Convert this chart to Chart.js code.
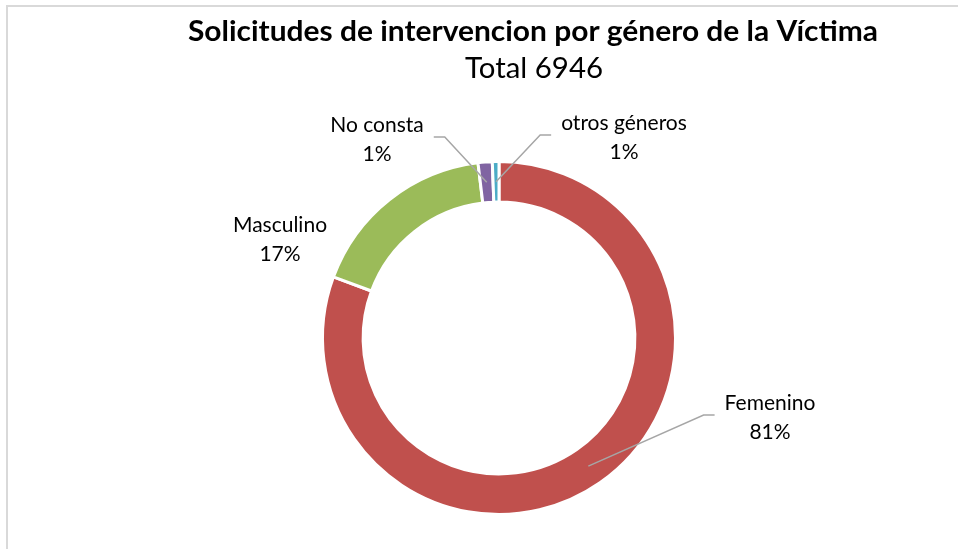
<!DOCTYPE html>
<html>
<head>
<meta charset="utf-8">
<script src="https://cdn.jsdelivr.net/npm/chart.js@4.4.0/dist/chart.umd.min.js"></script>
<style>
    html, body { margin: 0; padding: 0; background: #fff; overflow: hidden; }
    #wrap { position: relative; width: 958px; height: 549px; }
    #frame { position: absolute; left: 6px; top: 5px; width: 1000px; height: 600px; border: 2px solid #d9d9d9; box-sizing: border-box; }
    canvas { position: absolute; left: 0; top: 0; }
</style>
</head>
<body>
<div id="wrap">
    <div id="frame"></div>
    <canvas id="donut" width="958" height="549"></canvas>
</div>
<script>
const categories = ['Femenino', 'Masculino', 'No consta', 'otros géneros'];
const values = [5600, 1214, 90, 42];
const colors = ['#C0504D', '#9BBB59', '#8064A2', '#4BACC6'];
const chartTitle = 'Solicitudes de intervencion por género de la Víctima';

document.addEventListener('DOMContentLoaded', function () {
    const total = values.reduce((a, b) => a + b, 0);
    const percents = values.map(v => Math.round(v / total * 100) + '%');

    // draw text squeezed/stretched to a given width (Calibri is not installed)
    function fitText(ctx, text, x, y, font, width) {
        ctx.save();
        ctx.font = font;
        const w = ctx.measureText(text).width;
        ctx.translate(x, y);
        ctx.scale(width / w, 1);
        ctx.textAlign = 'center';
        ctx.fillText(text, 0, 0);
        ctx.restore();
    }

    const labelPlugin = {
        id: 'sliceLabels',
        afterDraw(chart, args, opts) {
            const ctx = chart.ctx;
            const arcs = chart.getDatasetMeta(0).data;
            const cx = arcs[0].x, cy = arcs[0].y;
            ctx.save();
            ctx.fillStyle = '#000';
            fitText(ctx, chartTitle, 533, 41, 'bold 29px Lato', 690);
            fitText(ctx, 'Total ' + total, 534, 78, '29px Lato', 138);

            ctx.font = '21px Lato';
            ctx.textAlign = 'center';
            ctx.textBaseline = 'alphabetic';
            arcs.forEach((arc, i) => {
                const p = opts.places[i];
                const x = cx + p.dx, y = cy + p.dy;
                ctx.fillStyle = '#000';
                ctx.fillText(categories[i], x, y);
                ctx.fillText(percents[i], x, y + 29);
                if (!p.side) return;
                const half = ctx.measureText(categories[i]).width / 2;
                const sx = p.side === 'left' ? x - half - 10 : x + half + 10;
                const ex = p.side === 'left' ? sx - 11 : sx + 11;
                const ly = y + 5;
                const c = arc.getCenterPoint();
                ctx.strokeStyle = '#A6A6A6';
                ctx.lineWidth = 1.5;
                ctx.beginPath();
                ctx.moveTo(sx, ly);
                ctx.lineTo(ex, ly);
                ctx.lineTo(c.x, c.y);
                ctx.stroke();
            });
            ctx.restore();
        }
    };

    new Chart(document.getElementById('donut').getContext('2d'), {
        type: 'doughnut',
        data: {
            labels: categories,
            datasets: [{
                data: values,
                backgroundColor: colors,
                borderColor: '#fff',
                borderWidth: 3
            }]
        },
        options: {
            responsive: false,
            animation: false,
            cutout: '77%',
            layout: { padding: { top: 160, bottom: 33, left: 140, right: 100 } },
            plugins: {
                legend: { display: false },
                tooltip: { enabled: false },
                sliceLabels: {
                    places: [
                        { dx: 271, dy: 72, side: 'left' },
                        { dx: -219, dy: -106, side: null },
                        { dx: -122, dy: -206, side: 'right' },
                        { dx: 125, dy: -208, side: 'left' }
                    ]
                }
            }
        },
        plugins: [labelPlugin]
    });
});
</script>
</body>
</html>
